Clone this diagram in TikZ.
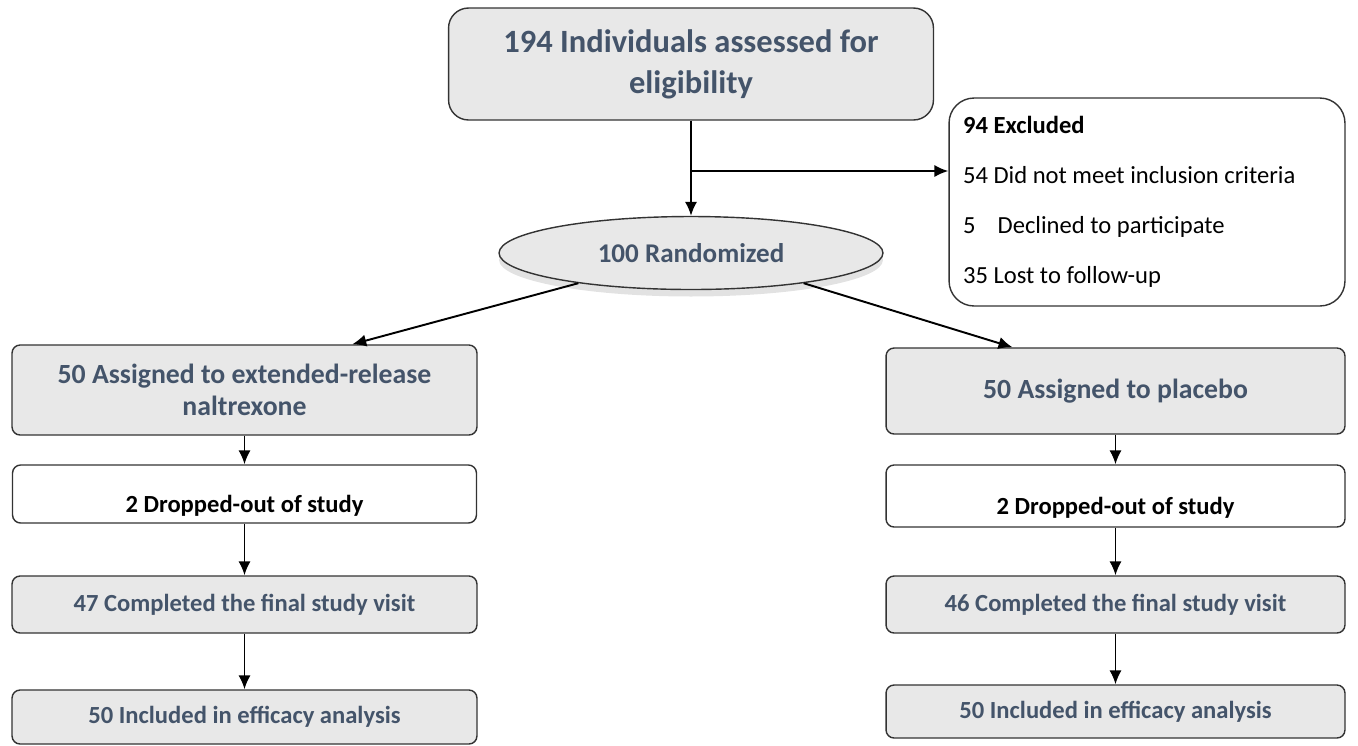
\documentclass[tikz,border=0pt]{standalone}
\usepackage{fontspec}
\setmainfont{Carlito}
\usepackage{tikz}
\usetikzlibrary{positioning,arrows,arrows.meta,shapes,shadows}

\definecolor{txtblue}{HTML}{44546A}
\definecolor{boxgray}{HTML}{E8E8E8}
\definecolor{edgegray}{HTML}{333333}
\newcommand{\natsp}{\spaceskip=0pt\xspaceskip=0pt\relax}

\begin{document}
\begin{tikzpicture}[x=0.02cm, y=-0.02cm, >={Latex[length=8pt,width=7pt]},
    graybox/.style={draw=edgegray, line width=0.8pt, fill=boxgray, rounded corners=0.16cm,
      text=txtblue, font=\bfseries\fontsize{14}{17}\selectfont, align=center, inner sep=0pt},
    whitebox/.style={graybox, fill=white, text=black, text height=0.74cm, text depth=0pt},
    flow/.style={->, line width=1.1pt}]
  \useasboundingbox (0,0) rectangle (1358,745);

  \node[graybox, rounded corners=0.4cm, minimum width=9.7cm, minimum height=2.24cm,
    font=\bfseries\fontsize{18.5}{23.5}\selectfont] (elig) at (691,64)
    {\natsp 194 Individuals assessed for\\eligibility};
  \node[graybox, fill=white, text=black, rounded corners=0.5cm, minimum width=7.92cm, minimum height=4.16cm,
    text width=7.36cm, align=left, font=\fontsize{14}{28.4}\selectfont] (excl) at (1147,202)
    {\natsp\textbf{94 Excluded}\\54 Did not meet inclusion criteria\\5\hspace{0.9em}Declined to participate\\35 Lost to follow-up};
  \node[graybox, ellipse, rounded corners=0pt, minimum width=7.68cm, minimum height=1.46cm,
    font=\bfseries\fontsize{15.4}{18}\selectfont,
    drop shadow={shadow xshift=0pt, shadow yshift=-0.14cm, fill=gray!45, opacity=.5}] (rand) at (691,253)
    {100 Randomized};

  % naltrexone arm
  \node[graybox, minimum width=9.3cm, minimum height=1.8cm,
    font=\bfseries\fontsize{15.8}{18.5}\selectfont] (nalA) at (244.5,390)
    {\natsp 50 Assigned to extended-release\\naltrexone};
  \node[whitebox, minimum width=9.28cm, minimum height=1.16cm] (nalD) at (244.5,494) {2 Dropped-out of study};
  \node[graybox, minimum width=9.3cm, minimum height=1.14cm] (nalC) at (244.5,604.5) {47 Completed the final study visit};
  \node[graybox, minimum width=9.3cm, minimum height=1.08cm] (nalI) at (244.5,717) {50 Included in efficacy analysis};

  % placebo arm
  \node[graybox, minimum width=9.18cm, minimum height=1.72cm,
    font=\bfseries\fontsize{15.8}{18.5}\selectfont] (plaA) at (1115.5,391) {50 Assigned to placebo};
  \node[whitebox, minimum width=9.18cm, minimum height=1.24cm] (plaD) at (1115.5,496) {2 Dropped-out of study};
  \node[graybox, minimum width=9.18cm, minimum height=1.14cm] (plaC) at (1115.5,604.5) {46 Completed the final study visit};
  \node[graybox, minimum width=9.18cm, minimum height=1.06cm] (plaI) at (1115.5,711.5) {50 Included in efficacy analysis};

  \coordinate (split) at (691,171);
  \draw[flow] (elig.south) -- (rand.north);
  \draw[flow] (split) -- (split -| excl.west);
  \draw[flow] (rand.195) -- (nalA.23);
  \draw[flow] (rand.-15) -- (plaA.157);
  \draw[flow] (nalA) -- (nalD);
  \draw[flow] (nalD) -- (nalC);
  \draw[flow] (nalC) -- (nalI);
  \draw[flow] (plaA) -- (plaD);
  \draw[flow] (plaD) -- (plaC);
  \draw[flow] (plaC) -- (plaI);
\end{tikzpicture}
\end{document}
